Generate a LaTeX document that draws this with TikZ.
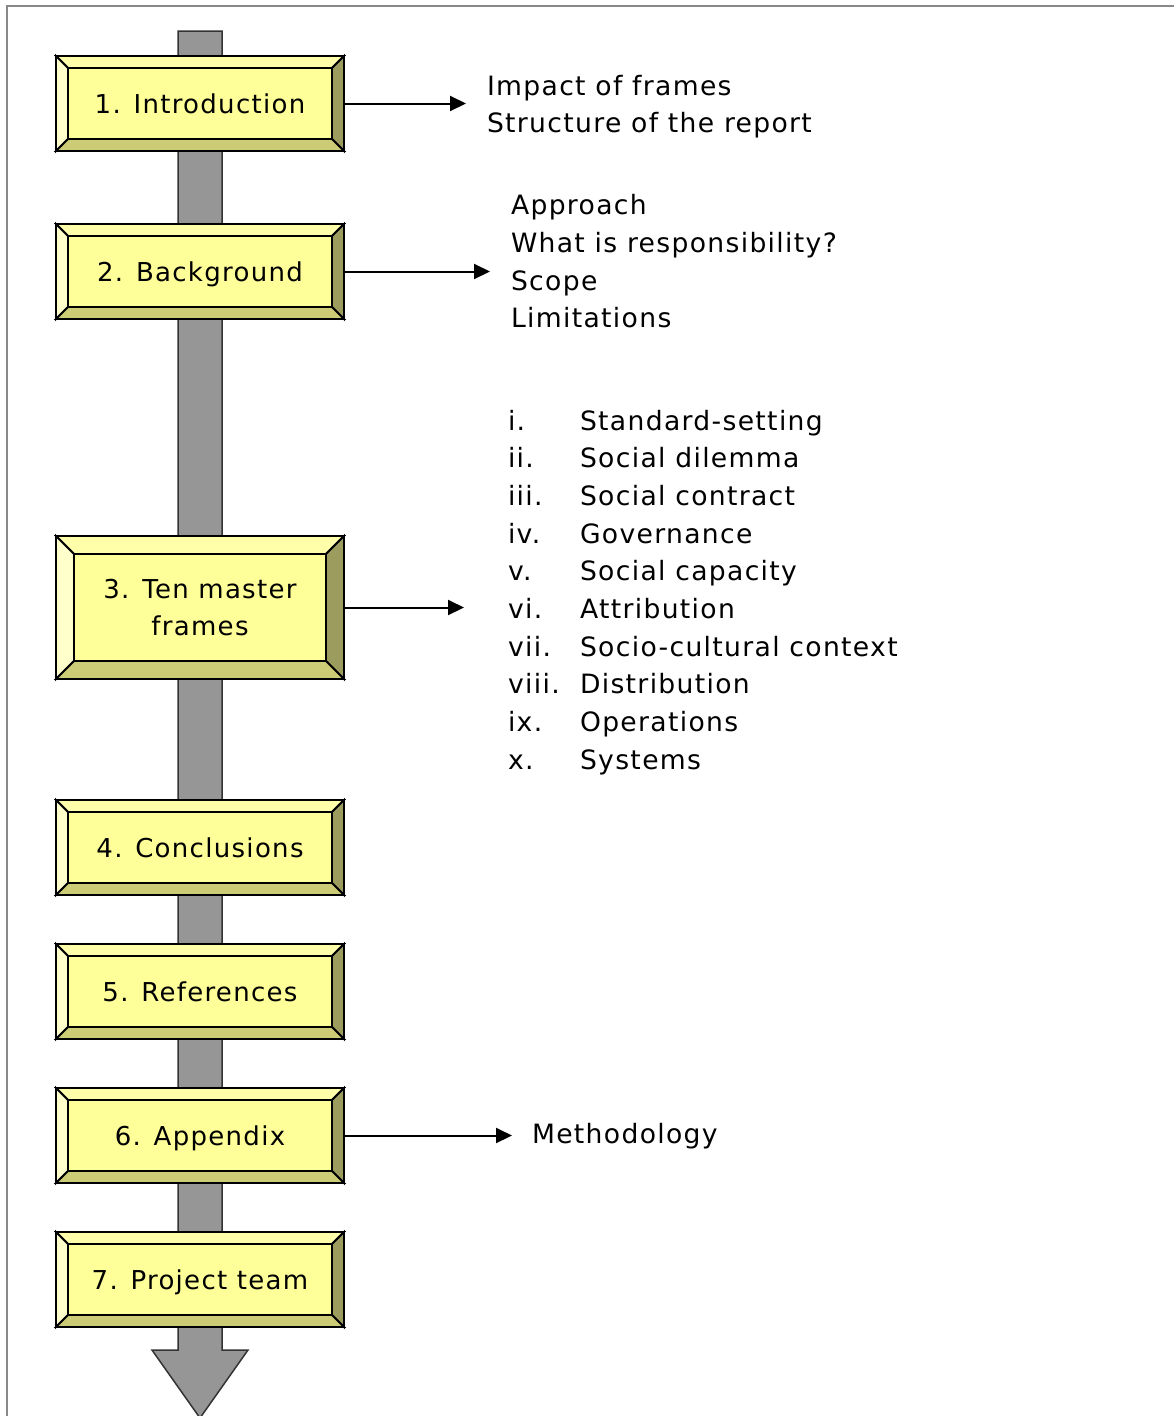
\documentclass[tikz,border=0pt]{standalone}
\usepackage{fontspec}
\setmainfont{DejaVu Sans}[LetterSpace=5]
\usetikzlibrary{calc, arrows.meta}
\pgfdeclarelayer{bg}
\pgfsetlayers{bg,main}

\definecolor{boxface}{HTML}{FFFF99}
\definecolor{bevtop}{HTML}{FFFFAA}
\definecolor{bevleft}{HTML}{FFFFCC}
\definecolor{bevbottom}{HTML}{CCCC77}
\definecolor{bevright}{HTML}{9C9C5E}
\definecolor{shaftgray}{HTML}{969696}
\definecolor{framegray}{HTML}{888888}

\newcommand{\labelfont}{\fontsize{26}{37}\selectfont}
\newcommand{\topicfont}{\fontsize{26.6}{37}\selectfont}

\tikzset{
  boxtext/.style={minimum width=288pt, inner sep=0pt, outer sep=0pt, font=\labelfont},
  topic/.style={anchor=base west, inner sep=0pt, outer sep=0pt, font=\topicfont},
  conn/.style={line width=2pt, -{Triangle[length=16pt,width=15pt]}},
  bevel/.style={draw=black, line width=1.8pt, line join=miter},
}

% bevelled box: [text options] name, centre y, height, bevel, text
\newcommand{\bevelbox}[6][text height=19pt,text depth=0pt]{%
  \node[boxtext, minimum height=#4pt, #1] (#2) at (200,#3) {#6};
  \begin{pgfonlayer}{bg}
    \coordinate (#2-a) at ($(#2.north west)+(#5,#5)$);
    \coordinate (#2-b) at ($(#2.north east)+(-#5,#5)$);
    \coordinate (#2-c) at ($(#2.south east)+(-#5,-#5)$);
    \coordinate (#2-d) at ($(#2.south west)+(#5,-#5)$);
    \filldraw[bevel, fill=bevtop] (#2.north west) -- (#2.north east) -- (#2-b) -- (#2-a) -- cycle;
    \filldraw[bevel, fill=bevleft] (#2.north west) -- (#2-a) -- (#2-d) -- (#2.south west) -- cycle;
    \filldraw[bevel, fill=bevright] (#2.north east) -- (#2.south east) -- (#2-c) -- (#2-b) -- cycle;
    \filldraw[bevel, fill=bevbottom] (#2.south west) -- (#2-d) -- (#2-c) -- (#2.south east) -- cycle;
    \filldraw[bevel, fill=boxface] (#2-a) rectangle (#2-c);
  \end{pgfonlayer}
}

\begin{document}
\begin{tikzpicture}[x=1pt, y=-1pt]
  \useasboundingbox (0,0) rectangle (1173,1416);
  \draw[framegray, line width=2.5pt] (7,1430) -- (7,6) -- (1190,6);

  % the shaft
  \begin{pgfonlayer}{bg}
    \filldraw[fill=shaftgray, draw=black!80, line width=1.5pt, line join=miter]
      (178,31) -- (222,31) -- (222,1350) -- (248,1350) -- (200,1418)
      -- (152,1350) -- (178,1350) -- cycle;
  \end{pgfonlayer}

  \bevelbox{intro}{103.5}{95}{12}{1. Introduction}
  \bevelbox{backgr}{271.5}{95}{12}{2. Background}
  \bevelbox[align=center]{frames}{607.5}{143}{18}{3. Ten master\\frames}
  \bevelbox{concl}{847.5}{95}{12}{4. Conclusions}
  \bevelbox{refs}{991.5}{95}{12}{5. References}
  \bevelbox{appx}{1135.5}{95}{12}{6. Appendix}
  \bevelbox{team}{1279.5}{95}{12}{7. Project team}

  \foreach \t [count=\i] in {Impact of frames, Structure of the report}
    \node[topic] (intro-\i) at (487, 58+37*\i) {\t};

  \foreach \t [count=\i] in {Approach, What is responsibility?, Scope, Limitations}
    \node[topic] (bg-\i) at (511, 177+37.7*\i) {\t};

  \foreach \r/\t [count=\i] in {i./Standard-setting, ii./Social dilemma,
      iii./Social contract, iv./Governance, v./Social capacity, vi./Attribution,
      vii./Socio-cultural context, viii./Distribution, ix./Operations, x./Systems} {
    \node[topic] (num-\i) at (508, 392.3+37.7*\i) {\r};
    \node[topic] (item-\i) at (580, 392.3+37.7*\i) {\t};
  }

  \node[topic] (method) at (532,1143) {Methodology};

  \draw[conn, shorten >=21pt] (intro.east) -- (intro.east -| intro-1.west);
  \draw[conn, shorten >=21pt] (backgr.east) -- (backgr.east -| bg-1.west);
  \draw[conn, shorten >=44pt] (frames.east) -- (frames.east -| num-1.west);
  \draw[conn, shorten >=20pt] (appx.east) -- (appx.east -| method.west);
\end{tikzpicture}
\end{document}
